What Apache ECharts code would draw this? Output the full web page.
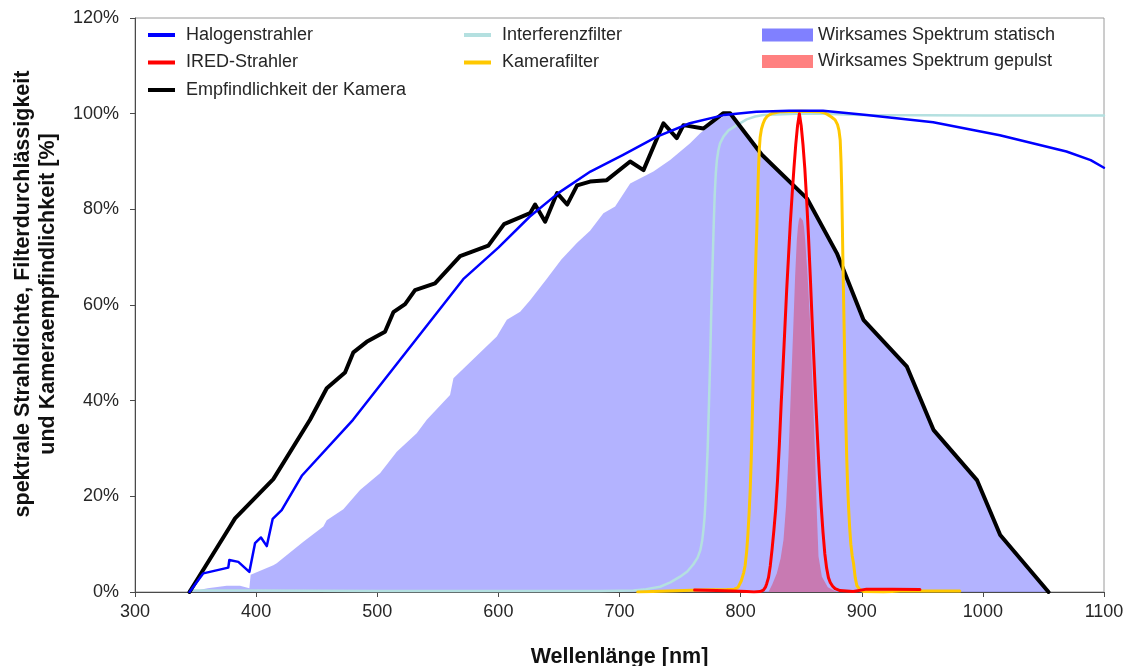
<!DOCTYPE html>
<html>
<head>
<meta charset="utf-8">
<title>Wirksames Spektrum</title>
<script src="https://cdn.jsdelivr.net/npm/echarts@6/dist/echarts.min.js"></script>
<style>
  html, body { margin: 0; padding: 0; background: #fff; }
  #chart { width: 1129px; height: 666px; }
</style>
</head>
<body>
<div id="chart"></div>
<script>
// Wellenlänge [nm] / relativer Wert [%]
const halogen = [
  [345,0],[356.4,3.9],[377,5.1],[377.9,6.7],[385.3,6.3],[394.4,4.2],[399.1,10.2],[404,11.4],
  [408.8,9.6],[413.7,15.3],[421.1,17.1],[437.7,24.3],[480,36],[571,65.4],[600,72],[626,78.5],
  [650,83.5],[676,87.9],[703,91.4],[731,95.2],[758,98],[786,99.7],[813,100.4],[840,100.6],
  [868,100.6],[904,99.7],[959,98.2],[1014,95.5],[1069,92.1],[1089,90.3],[1100,88.7]
];
const ired = [
  [762,0.4],[780,0.3],[794,0.2],[805,0.1],[811,0],[816,0.1],[818.8,0.4],[820.5,1],[821.6,1.8],
  [823,3],[824.5,5.5],[826,9],[827.5,13],[829,17.5],[830.5,23.5],[832,31],[833.5,39.5],
  [835,47],[836.5,55],[838,63],[839.5,70],[841,77],[842.5,83],[844,88.5],[845.5,93.5],
  [847,97.5],[848.5,100],[850,97.5],[851.5,93.5],[853,88.5],[854.5,82],[856,74.5],
  [857.5,66],[859,57],[860.5,48.5],[862,40],[863.5,32],[865,24.5],[866.5,18],[868,12.5],
  [869.5,8],[871,5],[872.5,3],[874,2],[876,1.2],[878,0.7],[882,0.3],[893,0.1],[904,0.6],
  [925,0.6],[948,0.5]
];
const kamera = [
  [345,0],[378.5,13.7],[382.6,15.4],[414.2,23.6],[444.5,36],[458.3,42.6],[473.4,45.9],
  [480.3,50.1],[491.3,52.3],[506.4,54.4],[513.3,58.5],[523,60.2],[531.2,63.1],[547.7,64.5],
  [568.4,70.2],[591.7,72.4],[604.7,76.9],[626.2,79.2],[630.3,81],[638.6,77.4],[648.5,83.4],
  [656.8,81],[665,85],[675.7,85.8],[689.5,86.1],[708.8,90],[719.8,88.2],[736.3,98],
  [747.3,94.9],[752.8,97.6],[769.3,96.9],[785.8,100.1],[791.3,100.1],[817.5,91.4],
  [854.7,82.3],[879.5,70.8],[901.4,56.9],[937.3,47.1],[959.2,33.9],[995.1,23.4],
  [1014.3,11.9],[1054.2,0]
];
const interferenz = [
  [345,0.3],[400,0.3],[500,0.2],[600,0.2],[684,0.2],[700,0.25],[711.5,0.3],[722,0.6],
  [733.5,1.1],[742,2],[750,3.2],[756,4.3],[761,5.8],[764.5,7.2],[766.8,8.8],[768.3,10.8],
  [769.3,13],[770.2,15.5],[771,19],[772,25],[772.8,30],[773.4,35.3],[774.2,42.5],[775,50],
  [775.6,57],[776.2,63.1],[777,70],[777.8,77],[778.6,83],[779.5,87.5],[780.4,90.3],
  [781.6,92.3],[783,93.8],[785.8,95.2],[790,96.5],[796.9,97.6],[805,98.8],[812,99.4],
  [818.8,99.7],[846,100],[868,100],[900,99.7],[1000,99.6],[1100,99.6]
];
const kamerafilter = [
  [715,0],[740,0.2],[766.6,0.4],[788.6,0.5],[795,0.6],[798,1],[800.5,2.3],[802.5,4],
  [803.7,5.5],[805,8.5],[806,12],[807,16.5],[807.9,21.3],[808.8,28],[809.5,35],[810.1,42],
  [810.6,49],[811.3,57],[812,65],[812.7,71],[813.4,76],[814,82],[814.7,88],[815.4,92.5],
  [816.1,95],[817.2,96.8],[818.5,97.9],[820,98.8],[821.7,99.4],[824,99.8],[826.5,100.1],
  [832.6,100.4],[850,100.5],[865.6,100.4],[869,100.2],[872,99.8],[875,99.3],[878,98.7],
  [880,97.7],[881.2,96.5],[882.2,94.5],[882.9,90],[883.4,85],[883.9,78],[884.4,70.1],
  [884.9,63],[885.4,56],[885.9,49],[886.3,42.2],[886.9,35],[887.6,28],[888.3,22.5],
  [889.1,17.8],[890,13.5],[891,10],[892.1,7.6],[893.2,6],[894.6,3],[896,1.3],[898.5,0.5],
  [901.4,0.1],[918,0],[931.7,0.2],[960,0.2],[981,0.2]
];
const spektrumStatisch = [
  [345,0],[360,0.8],[375.7,1.3],[386.7,1.3],[394.4,0.8],[395.5,3.6],[414.2,5.6],[417,6],
  [439,10.5],[455.5,13.7],[458.3,15],[472,17.3],[485.8,21.3],[502.3,24.8],[516.1,29.3],
  [532.6,33.2],[540.9,36],[560.1,41.2],[562.9,44.7],[598.7,53.4],[607,56.9],[618,58.6],
  [626.2,61],[640,65.5],[652,69.5],[665,73],[675.7,75.5],[686.7,79.2],[696.4,80.6],
  [708.8,85.4],[728,87.9],[741.8,90.3],[758.3,93.8],[766.6,95.9],[780.4,98.7],[788.6,99.7],
  [791.3,99.8],[817.5,91.1],[854.7,82],[879.5,70.5],[901.4,56.6],[937.3,46.8],[959.2,33.6],
  [995.1,23.1],[1014.3,11.6],[1054.2,0]
];
const spektrumGepulst = [
  [823,0],[826,1.5],[829.9,3.9],[833,7],[835.4,10.9],[837.5,18],[839.5,28.3],[841.5,42],
  [843.6,56.2],[845,66],[846.4,73.6],[847.3,76.3],[848,77.6],[849,78.4],[849.7,78.5],
  [850.5,78.4],[851.5,77.6],[852.3,76.3],[853.3,73.6],[855.3,66],[857.4,56.2],[859.5,42],
  [861.5,28.3],[863,16],[864.3,7.4],[867.1,3.2],[872,1],[879.5,0]
];
const xTicks = { min: 300, max: 1100, step: 100 };
const yTicks = { min: 0, max: 120, step: 20 };

const FONT = "'Liberation Sans', Arial, sans-serif";
const TEXT = '#262626';

const chart = echarts.init(document.getElementById('chart'), null, { renderer: 'canvas' });

function lineSeries(name, data, color, width, z) {
  return {
    name, type: 'line', data, z,
    symbol: 'none', showSymbol: false, smooth: false,
    itemStyle: { color },
    lineStyle: { color, width, join: 'round', cap: 'round' },
    emphasis: { disabled: true }
  };
}

function areaSeries(name, data, legendColor, fillColor, z) {
  return {
    name, type: 'line', data, z,
    symbol: 'none', showSymbol: false, smooth: false,
    itemStyle: { color: legendColor },
    lineStyle: { width: 0 },
    areaStyle: { color: fillColor, opacity: 1 },
    emphasis: { disabled: true }
  };
}

const legendText = (pad) => ({
  fontFamily: FONT, fontSize: 18, lineHeight: 18, color: TEXT, padding: [0, 0, 0, pad]
});

chart.setOption({
  animation: false,
  backgroundColor: '#ffffff',
  textStyle: { fontFamily: FONT },
  grid: {
    left: 135, right: 25, top: 18, bottom: 74,
    outerBoundsMode: 'none',
    containLabel: false,
    show: true, borderColor: '#9a9a9a', borderWidth: 1, backgroundColor: '#ffffff'
  },
  legend: [
    {
      left: 143, top: 21, orient: 'vertical', icon: 'rect',
      itemWidth: 27, itemHeight: 4, itemGap: 9.5,
      selectedMode: false,
      data: ['Halogenstrahler', 'IRED-Strahler', 'Empfindlichkeit der Kamera'],
      textStyle: legendText(6)
    },
    {
      left: 459, top: 21, orient: 'vertical', icon: 'rect',
      itemWidth: 27, itemHeight: 4, itemGap: 9.5,
      selectedMode: false,
      data: ['Interferenzfilter', 'Kamerafilter'],
      textStyle: legendText(6)
    },
    {
      left: 757, top: 21, orient: 'vertical', icon: 'rect',
      itemWidth: 51, itemHeight: 13, itemGap: 8.5,
      selectedMode: false,
      data: [
        { name: 'Wirksames Spektrum statisch', itemStyle: { color: '#8080ff' } },
        { name: 'Wirksames Spektrum gepulst', itemStyle: { color: '#ff8080' } }
      ],
      textStyle: legendText(0)
    }
  ],
  xAxis: {
    type: 'value',
    min: xTicks.min, max: xTicks.max, interval: xTicks.step,
    name: 'Wellenlänge [nm]',
    nameLocation: 'middle', nameGap: 54,
    nameTextStyle: { fontFamily: FONT, fontSize: 21.5, fontWeight: 'bold', color: '#111' },
    axisLine: { show: true, onZero: false, lineStyle: { color: '#4a4a4a', width: 1 } },
    axisTick: { show: true, inside: false, length: 5, lineStyle: { color: '#4a4a4a' } },
    axisLabel: { fontFamily: FONT, fontSize: 18, color: TEXT, margin: 11, formatter: (v) => String(v) },
    splitLine: { show: false }
  },
  yAxis: {
    type: 'value',
    min: yTicks.min, max: yTicks.max, interval: yTicks.step,
    axisLine: { show: true, lineStyle: { color: '#4a4a4a', width: 1 } },
    axisTick: { show: true, inside: false, length: 5, lineStyle: { color: '#4a4a4a' } },
    axisLabel: { fontFamily: FONT, fontSize: 18, color: TEXT, margin: 16, formatter: '{value}%' },
    splitLine: { show: false }
  },
  graphic: [
    {
      type: 'text',
      x: 36, y: 294,
      rotation: Math.PI / 2,
      style: {
        text: 'spektrale Strahldichte, Filterdurchlässigkeit\nund Kameraempfindlichkeit [%]',
        fontFamily: FONT, fontSize: 21.5, fontWeight: 'bold', fill: '#111',
        align: 'center', verticalAlign: 'middle', lineHeight: 25
      }
    }
  ],
  series: [
    areaSeries('Wirksames Spektrum statisch', spektrumStatisch, '#8080ff', 'rgba(128,128,255,0.6)', 1),
    areaSeries('Wirksames Spektrum gepulst', spektrumGepulst, '#ff8080', '#c87ab2', 2),
    lineSeries('Interferenzfilter', interferenz, '#b4e0e0', 2.5, 3),
    lineSeries('Empfindlichkeit der Kamera', kamera, '#000000', 4, 4),
    lineSeries('Kamerafilter', kamerafilter, '#ffc800', 3, 5),
    lineSeries('IRED-Strahler', ired, '#ff0000', 3, 6),
    lineSeries('Halogenstrahler', halogen, '#0000ff', 2.5, 7)
  ]
});
</script>
</body>
</html>
